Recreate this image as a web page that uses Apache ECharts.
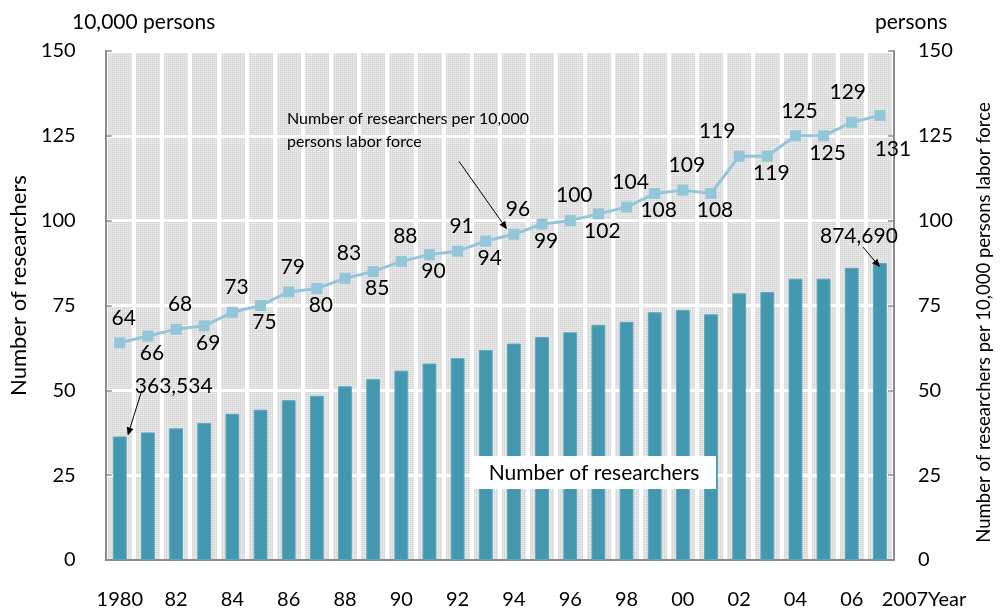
<!DOCTYPE html>
<html>
<head>
<meta charset="utf-8">
<script src="https://cdn.jsdelivr.net/npm/echarts@6/dist/echarts.min.js"></script>
<style>
  html, body { margin: 0; padding: 0; background: #fff; }
  #chart { width: 1002px; height: 615px; }
</style>
</head>
<body>
<div id="chart"></div>
<script>
const FONT = 'Lato, "Open Sans", sans-serif';

// years on the x axis (tick label text)
const years = ['1980', '81', '82', '83', '84', '85', '86', '87', '88', '89',
  '90', '91', '92', '93', '94', '95', '96', '97', '98', '99',
  '00', '01', '02', '03', '04', '05', '06', '2007'];
// number of researchers, unit: 10,000 persons
const researchers = [36.4, 37.6, 38.8, 40.4, 43.1, 44.3, 47.1, 48.4, 51.2, 53.3,
  55.8, 57.9, 59.5, 61.9, 63.8, 65.7, 67.1, 69.3, 70.2, 73.0,
  73.7, 72.4, 78.6, 79.0, 82.9, 82.9, 86.1, 87.5];
// researchers per 10,000 persons labor force
const perLabor = [64, 66, 68, 69, 73, 75, 79, 80, 83, 85,
  88, 90, 91, 94, 96, 99, 100, 102, 104, 108,
  109, 108, 119, 119, 125, 125, 129, 131];
const firstCount = '363,534';
const lastCount = '874,690';
const yTicks = { min: 0, max: 150, interval: 25 };

// a few line labels sit off their usual spot
const labelTweaks = {
  22: { offset: [-22, 0] },
  26: { distance: 14, offset: [-4, 0] },
  27: { distance: 18, offset: [13, 0] }
};

const chart = echarts.init(document.getElementById('chart'));

// fine grey mesh behind the plot
const tile = document.createElement('canvas');
tile.width = 2; tile.height = 2;
const tctx = tile.getContext('2d');
tctx.fillStyle = '#f4f4f4'; tctx.fillRect(0, 0, 2, 2);
tctx.fillStyle = '#dadada'; tctx.fillRect(0, 0, 2, 1); tctx.fillRect(0, 0, 1, 2);

const axisGrey = '#8c8c8c';
function yAxisBase() {
  return {
    type: 'value',
    min: yTicks.min,
    max: yTicks.max,
    interval: yTicks.interval,
    nameLocation: 'middle',
    nameRotate: 90,
    axisLine: { show: true, lineStyle: { color: axisGrey, width: 2 } },
    axisTick: { show: true, inside: true, length: 6, lineStyle: { color: axisGrey, width: 1.5 } },
    axisLabel: { color: '#000', fontSize: 20, fontFamily: FONT }
  };
}

const leftAxis = Object.assign(yAxisBase(), {
  position: 'left',
  name: 'Number of researchers',
  nameGap: 69,
  nameTextStyle: { color: '#000', fontSize: 22, fontFamily: FONT, padding: [0, 0, 0, 40] },
  splitLine: { show: true, lineStyle: { color: '#fff', width: 3 } }
});
leftAxis.axisLabel.margin = 30;

const rightAxis = Object.assign(yAxisBase(), {
  position: 'right',
  name: 'Number of researchers per 10,000 persons labor force',
  nameGap: 81,
  nameTextStyle: { color: '#000', fontSize: 18.5, fontFamily: FONT, padding: [0, 34, 0, 0] },
  splitLine: { show: false }
});
rightAxis.axisLabel.margin = 24;

const option = {
  backgroundColor: '#fff',
  animation: false,
  grid: {
    left: 103, right: 104, top: 51, bottom: 55,
    show: true,
    backgroundColor: { image: tile, repeat: 'repeat' },
    borderWidth: 0
  },
  xAxis: {
    type: 'category',
    data: years,
    axisLine: { show: true, lineStyle: { color: axisGrey, width: 2 } },
    axisTick: { show: false },
    splitLine: { show: true, interval: 0, lineStyle: { color: '#fff', width: 4 } },
    axisLabel: {
      interval: (i) => i % 2 === 0 || i === years.length - 1,
      margin: 30,
      color: '#000',
      fontSize: 20,
      fontFamily: FONT,
      formatter: (v, i) => i === years.length - 1 ? '{l|' + v + 'Year}' : v,
      rich: { l: { fontSize: 20, fontFamily: FONT, color: '#000', padding: [0, 0, 0, 88] } }
    }
  },
  yAxis: [leftAxis, rightAxis],
  series: [
    {
      name: 'Number of researchers',
      type: 'bar',
      yAxisIndex: 0,
      data: researchers,
      barWidth: '49%',
      itemStyle: { color: '#4398b0', borderColor: '#5aa9bf', borderWidth: 1 }
    },
    {
      name: 'Number of researchers per 10,000 persons labor force',
      type: 'line',
      yAxisIndex: 1,
      data: perLabor.map((v, i) => ({
        value: v,
        label: Object.assign(i % 2 === 0
          ? { position: 'top', distance: 9 }
          : { position: 'bottom', distance: 1 }, labelTweaks[i] || {})
      })),
      symbol: 'rect',
      symbolSize: 11,
      lineStyle: { color: '#92c6d8', width: 3 },
      itemStyle: { color: '#92c6d8' },
      label: {
        show: true,
        color: '#000',
        fontSize: 21,
        fontFamily: FONT,
        offset: [4, 0]
      }
    }
  ]
};

chart.setOption(option);

function arrow(from, to) {
  const dx = to[0] - from[0], dy = to[1] - from[1];
  const len = Math.sqrt(dx * dx + dy * dy);
  const ux = dx / len, uy = dy / len;
  const hl = 8, hw = 3.5;
  const bx = to[0] - ux * hl, by = to[1] - uy * hl;
  return [
    { type: 'line', shape: { x1: from[0], y1: from[1], x2: bx, y2: by },
      style: { stroke: '#000', lineWidth: 1 }, z: 100 },
    { type: 'polygon', shape: { points: [to, [bx - uy * hw, by + ux * hw], [bx + uy * hw, by - ux * hw]] },
      style: { fill: '#000' }, z: 100 }
  ];
}

const firstBar = chart.convertToPixel({ seriesIndex: 0 }, [0, researchers[0]]);
const lastIdx = researchers.length - 1;
const lastBar = chart.convertToPixel({ seriesIndex: 0 }, [lastIdx, researchers[lastIdx]]);
const point94 = chart.convertToPixel({ seriesIndex: 1 }, [14, perLabor[14]]);

const graphics = [
  { type: 'text', left: 72, top: 12, z: 100,
    style: { text: '10,000 persons', fontSize: 21, fontFamily: FONT, fill: '#000' } },
  { type: 'text', left: 875, top: 12, z: 100,
    style: { text: 'persons', fontSize: 21, fontFamily: FONT, fill: '#000' } },
  { type: 'text', x: firstBar[0] + 15, y: firstBar[1] - 50, z: 100,
    style: { text: firstCount, fontSize: 21, fontFamily: FONT, fill: '#000', verticalAlign: 'middle' } },
  { type: 'text', x: lastBar[0] - 21, y: lastBar[1] - 27, z: 100,
    style: { text: lastCount, fontSize: 21, fontFamily: FONT, fill: '#000', align: 'center', verticalAlign: 'middle' } },
  { type: 'text', x: point94[0] - 227, y: point94[1] - 127, z: 100,
    style: { text: 'Number of researchers per 10,000\npersons labor force', fontSize: 16, lineHeight: 23,
      fontFamily: FONT, fill: '#000' } },
  { type: 'rect', shape: { x: 470, y: 456, width: 246, height: 33 }, style: { fill: '#fff' }, z: 90 },
  { type: 'text', x: 594, y: 473, z: 100,
    style: { text: 'Number of researchers', fontSize: 21, fontFamily: FONT, fill: '#000', align: 'center', verticalAlign: 'middle' } }
].concat(
  arrow([firstBar[0] + 22, firstBar[1] - 46], [firstBar[0] + 8, firstBar[1] - 1]),
  arrow([lastBar[0] - 17, lastBar[1] - 16], [lastBar[0], lastBar[1] + 4]),
  arrow([point94[0] - 55, point94[1] - 73], [point94[0] - 7, point94[1] - 5])
);

chart.setOption({ graphic: graphics });
</script>
</body>
</html>
